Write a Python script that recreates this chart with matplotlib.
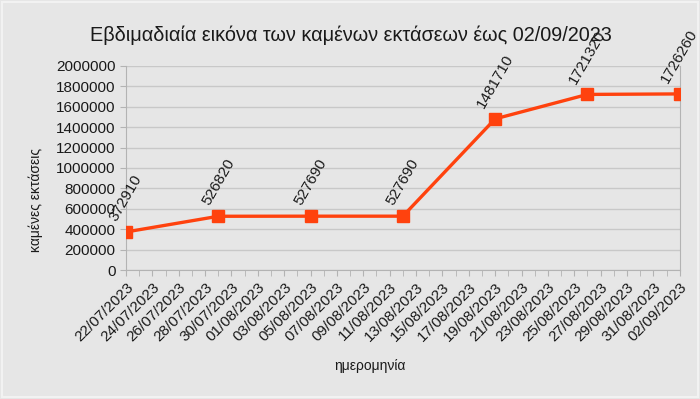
import numpy as np
import matplotlib
matplotlib.use('Agg')
import matplotlib.pyplot as plt
import matplotlib.dates as mdates
import matplotlib.ticker as mticker
from datetime import date

plt.rcParams['font.family'] = ['Liberation Sans', 'DejaVu Sans']

# weekly totals of burnt area
dates = [date(2023, 7, 22), date(2023, 7, 29), date(2023, 8, 5), date(2023, 8, 12),
         date(2023, 8, 19), date(2023, 8, 26), date(2023, 9, 2)]
burnt = [372910, 526820, 527690, 527690, 1481710, 1721320, 1726260]

bg = '#e6e6e6'
orange = '#ff420e'
axcol = '#b3b3b3'

fig = plt.figure(figsize=(7, 3.99), dpi=100, facecolor=bg)
ax = fig.add_axes([0.18, 0.3233, 0.791, 0.5113])
ax.set_facecolor(bg)

ax.plot(dates, burnt, color=orange, lw=2.4, marker='s', markersize=9, zorder=3)

for d, v in zip(dates, burnt):
    ax.annotate(str(v), (d, v), xytext=(0, 6), textcoords='offset points',
                rotation=60, ha='center', va='bottom', fontsize=11, color='#1a1a1a',
                annotation_clip=False)

start, end = np.datetime64('2023-07-22'), np.datetime64('2023-09-02')
ax.set_xlim(start, end)
ax.set_ylim(0, 2000000)
ax.set_yticks(np.arange(0, 2000001, 200000))
ax.yaxis.set_major_formatter(mticker.FuncFormatter(lambda v, p: '%d' % v))
ax.set_xticks(np.arange(start, end + np.timedelta64(1, 'D'), np.timedelta64(2, 'D')))
ax.set_xticks(np.arange(start, end, np.timedelta64(1, 'D')), minor=True)
ax.xaxis.set_major_formatter(mdates.DateFormatter('%d/%m/%Y'))
plt.setp(ax.get_xticklabels(), rotation=45, ha='right', rotation_mode='anchor')

ax.tick_params(axis='both', which='both', length=4, color=axcol, labelsize=11,
               labelcolor='#1a1a1a')
ax.tick_params(axis='x', pad=3)

ax.grid(axis='y', color='#c8c8c8', lw=1)
ax.set_axisbelow(True)
for s in ['left', 'bottom', 'right']:
    ax.spines[s].set_color(axcol)
ax.spines['top'].set_visible(False)

fig.text(0.501, 0.912, 'Εβδιμαδιαία εικόνα των καμένων εκτάσεων έως 02/09/2023',
         ha='center', va='center', fontsize=14.3, color='#1a1a1a')
fig.text(0.051, 0.499, 'καμένες εκτάσεις', rotation=90, ha='center', va='center',
         fontsize=10, color='#1a1a1a')
fig.text(0.529, 0.083, 'ημερομηνία', ha='center', va='center', fontsize=10,
         color='#1a1a1a')

fig.patches.append(plt.Rectangle((0.003, 0.005), 0.994, 0.99, transform=fig.transFigure,
                                 fill=False, edgecolor='#f2f2f2', lw=1.5))

fig.savefig('out.png', dpi=100, facecolor=bg)
